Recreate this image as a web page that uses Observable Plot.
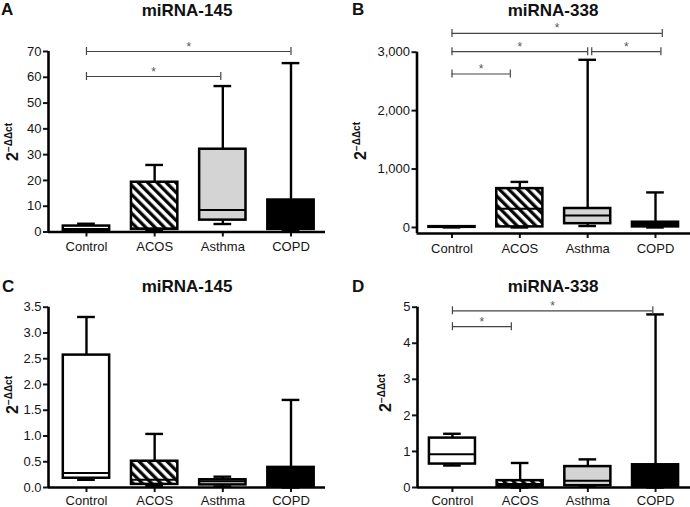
<!DOCTYPE html>
<html>
<head>
<meta charset="utf-8">
<script src="https://cdn.jsdelivr.net/npm/d3@7"></script>
<script src="https://cdn.jsdelivr.net/npm/@observablehq/plot@0.6"></script>
<style>
  html, body { margin: 0; padding: 0; background: #fff; }
  #fig { position: relative; width: 690px; height: 507px; overflow: hidden; font-family: "Liberation Sans", Arial, sans-serif; color: #111; }
  .panel { position: absolute; }
  .panel svg { overflow: visible; }
  .panel svg text { font-size: 13px; }
  .panel svg text.star, .panel svg g.star text { font-size: 12px; }
  .lt { position: absolute; font: bold 17px/17px "Liberation Sans", Arial, sans-serif; }
  .tt { position: absolute; font: bold 17px/17px "Liberation Sans", Arial, sans-serif; transform: translateX(-50%); white-space: nowrap; }
  .yl { position: absolute; font: bold 16px/16px "Liberation Sans", Arial, sans-serif; transform: translate(-50%, -50%) rotate(-90deg); white-space: nowrap; }
  .yl sup { font-size: 10px; vertical-align: 6px; line-height: 0; }
  svg [aria-label="y-axis tick"], svg [aria-label="x-axis tick"], svg .tick line { stroke-width: 2; }
</style>
</head>
<body>
<svg width="0" height="0" style="position:absolute">
  <defs>
    <pattern id="hatch" patternUnits="userSpaceOnUse" width="6.6" height="6.6" patternTransform="rotate(-45)">
      <rect width="6.6" height="6.6" fill="white"></rect>
      <line x1="1.7" y1="0" x2="1.7" y2="6.6" stroke="black" stroke-width="3.2"></line>
    </pattern>
  </defs>
</svg>
<div id="fig">
  <div class="lt" style="left:1px;top:0.5px">A</div>
  <div class="tt" style="left:187px;top:1.5px">miRNA-145</div>
  <div class="lt" style="left:352px;top:0.5px">B</div>
  <div class="tt" style="left:553px;top:1.5px">miRNA-338</div>
  <div class="lt" style="left:2px;top:277.5px">C</div>
  <div class="tt" style="left:187px;top:277.5px">miRNA-145</div>
  <div class="lt" style="left:352px;top:277.5px">D</div>
  <div class="tt" style="left:553px;top:277.5px">miRNA-338</div>
  <div class="yl" style="left:13px;top:142px">2<sup>−ΔΔct</sup></div>
  <div class="yl" style="left:361px;top:141px">2<sup>−ΔΔct</sup></div>
  <div class="yl" style="left:13px;top:395px">2<sup>−ΔΔct</sup></div>
  <div class="yl" style="left:386px;top:393px">2<sup>−ΔΔct</sup></div>
  <div class="panel" id="pA" style="left:0;top:0"></div>
  <div class="panel" id="pB" style="left:345px;top:0"></div>
  <div class="panel" id="pC" style="left:0;top:250px"></div>
  <div class="panel" id="pD" style="left:345px;top:250px"></div>
</div>
<script>
const categories = ["Control", "ACOS", "Asthma", "COPD"];

// Panel A – miRNA-145
const aMin = [0.3, 0.4, 3.1, 0.5];
const aQ1  = [0.5, 1.0, 4.6, 1.0];
const aMed = [1.2, 1.4, 8.5, 3.5];
const aQ3  = [2.3, 19.3, 32.1, 12.4];
const aMax = [3.2, 26.0, 56.6, 65.5];
const aTicks = [0, 10, 20, 30, 40, 50, 60, 70];
const aBrFrom = [0, 0];
const aBrTo   = [3, 1.97];
const aBrY    = [70, 60.3];

// Panel B – miRNA-338
const bMin = [1, 0, 25, 0];
const bQ1  = [3, 10, 65, 10];
const bMed = [8, 320, 205, 40];
const bQ3  = [14, 665, 325, 90];
const bMax = [20, 780, 2870, 600];
const bTicks = [0, 1000, 2000, 3000];
const bBrFrom = [0, 0, 2.06, 0];
const bBrTo   = [3.1, 2, 3.08, 0.86];
const bBrY    = [3321, 3009, 3009, 2627];

// Panel C – miRNA-145
const cMin = [0.15, 0.03, 0.02, 0.0];
const cQ1  = [0.18, 0.06, 0.05, 0.02];
const cMed = [0.28, 0.15, 0.12, 0.10];
const cQ3  = [2.57, 0.51, 0.15, 0.39];
const cMax = [3.31, 1.04, 0.21, 1.70];
const cTicks = [0, 0.5, 1.0, 1.5, 2.0, 2.5, 3.0, 3.5];
const cBrFrom = [];
const cBrTo   = [];
const cBrY    = [];

// Panel D – miRNA-338
const dMin = [0.61, 0.0, 0.02, 0.0];
const dQ1  = [0.65, 0.02, 0.05, 0.02];
const dMed = [0.92, 0.10, 0.19, 0.10];
const dQ3  = [1.37, 0.19, 0.58, 0.63];
const dMax = [1.49, 0.68, 0.78, 4.80];
const dTicks = [0, 1, 2, 3, 4, 5];
const dBrFrom = [0, 0];
const dBrTo   = [2.96, 0.87];
const dBrY    = [4.9, 4.46];

const fills = ["white", "url(#hatch)", "#d4d4d4", "black"];

function panel(o) {
  const rows = categories.map((c, i) => ({i, c, min: o.min[i], q1: o.q1[i], med: o.med[i], q3: o.q3[i], max: o.max[i]}));
  const br = o.brY.map((y, k) => ({x1: o.brFrom[k], x2: o.brTo[k], y}));
  const hw = 0.34, cw = 0.13;
  return Plot.plot({
    width: o.width, height: o.height,
    marginTop: o.mt, marginBottom: o.mb, marginLeft: o.ml, marginRight: o.mr,
    style: {background: "transparent", fontFamily: "'Liberation Sans', Arial, sans-serif", fontSize: "13px", color: "#151515", overflow: "visible"},
    x: {domain: o.xDomain, ticks: [0, 1, 2, 3], tickFormat: (i) => categories[i], tickSize: 5, tickPadding: o.xPad, label: null},
    y: {domain: o.yDomain, ticks: o.yTicks, tickFormat: o.yFormat, tickSize: 5, tickPadding: 2, label: null},
    marks: [
      Plot.ruleX(rows, {x: "i", y1: "q3", y2: "max", stroke: "black", strokeWidth: 2.4}),
      Plot.ruleX(rows, {x: "i", y1: "min", y2: "q1", stroke: "black", strokeWidth: 2.4}),
      Plot.ruleY(rows, {y: "max", x1: (d) => d.i - cw, x2: (d) => d.i + cw, stroke: "black", strokeWidth: 2.4}),
      Plot.ruleY(rows, {y: "min", x1: (d) => d.i - cw, x2: (d) => d.i + cw, stroke: "black", strokeWidth: 2.4}),
      ...rows.map((r, i) => Plot.rectY([r], {x1: (d) => d.i - hw, x2: (d) => d.i + hw, y1: "q1", y2: "q3", fill: fills[i], stroke: "black", strokeWidth: 2.5})),
      Plot.ruleY(rows, {y: "med", x1: (d) => d.i - hw, x2: (d) => d.i + hw, stroke: "black", strokeWidth: 2}),
      Plot.ruleY(br, {y: "y", x1: "x1", x2: "x2", stroke: "#444", strokeWidth: 1.2}),
      Plot.ruleX(br, {x: "x1", y1: "y", y2: "y", insetTop: 4, insetBottom: 4, stroke: "#444", strokeWidth: 1.2}),
      Plot.ruleX(br, {x: "x2", y1: "y", y2: "y", insetTop: 4, insetBottom: 4, stroke: "#444", strokeWidth: 1.2}),
      Plot.text(br, {x: (d) => (d.x1 + d.x2) / 2, y: "y", text: () => "*", lineAnchor: "bottom", dy: -1, fill: "#555", fontSize: 12, className: "star"}),
      Plot.ruleX([o.xDomain[0]], {stroke: "black", strokeWidth: 2.6}),
      Plot.ruleY([o.yDomain[0]], {stroke: "black", strokeWidth: 2.6})
    ]
  });
}

const comma = d3.format(",");
document.getElementById("pA").append(panel({
  min: aMin, q1: aQ1, med: aMed, q3: aQ3, max: aMax, brFrom: aBrFrom, brTo: aBrTo, brY: aBrY,
  yDomain: [0, 70], yTicks: aTicks, yFormat: (d) => String(d),
  xDomain: [-0.557, 3.506], width: 345, height: 250, mt: 51, mb: 18.5, ml: 48, mr: 20, xPad: 5
}));
document.getElementById("pB").append(panel({
  min: bMin, q1: bQ1, med: bMed, q3: bQ3, max: bMax, brFrom: bBrFrom, brTo: bBrTo, brY: bBrY,
  yDomain: [-103, 3000], yTicks: bTicks, yFormat: comma,
  xDomain: [-0.516, 3.516], width: 345, height: 250, mt: 51.7, mb: 17, ml: 71.5, mr: 0, xPad: 5
}));
document.getElementById("pC").append(panel({
  min: cMin, q1: cQ1, med: cMed, q3: cQ3, max: cMax, brFrom: cBrFrom, brTo: cBrTo, brY: cBrY,
  yDomain: [0, 3.5], yTicks: cTicks, yFormat: (d) => d.toFixed(1),
  xDomain: [-0.557, 3.506], width: 345, height: 257, mt: 56.7, mb: 20, ml: 48, mr: 20, xPad: 3
}));
document.getElementById("pD").append(panel({
  min: dMin, q1: dQ1, med: dMed, q3: dQ3, max: dMax, brFrom: dBrFrom, brTo: dBrTo, brY: dBrY,
  yDomain: [0, 5], yTicks: dTicks, yFormat: (d) => String(d),
  xDomain: [-0.516, 3.516], width: 345, height: 257, mt: 56.7, mb: 20, ml: 72, mr: 0, xPad: 3
}));
</script>
</body>
</html>
